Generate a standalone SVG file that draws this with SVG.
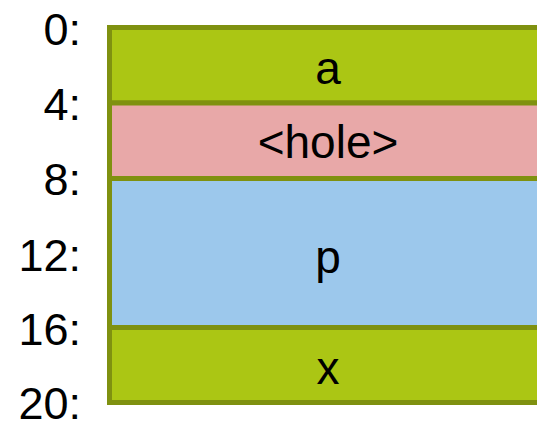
<svg xmlns="http://www.w3.org/2000/svg" width="537" height="423" viewBox="0 0 537 423">
<style>
.box{stroke:#7f9110;stroke-width:5}
.g{fill:#abc614}
.h{fill:#e8a8a8}
.b{fill:#9cc8ec}
text{font-family:"Liberation Sans",Arial,sans-serif;font-size:46px;fill:#000}
.lbl{text-anchor:middle}
.ax{text-anchor:end;font-size:45px}
</style>
<rect width="537" height="423" fill="#fff"/>
<g id="axis">
<text class="ax" x="81" y="45">0:</text>
<text class="ax" x="81" y="120">4:</text>
<text class="ax" x="81" y="195">8:</text>
<text class="ax" x="81" y="271">12:</text>
<text class="ax" x="81" y="345">16:</text>
<text class="ax" x="81" y="419">20:</text>
</g>
<g id="node-a">
<rect class="box g" x="109.5" y="27.5" width="440" height="75.5"/>
<text class="lbl" x="328" y="84">a</text>
</g>
<g id="node-hole">
<rect class="box h" x="109.5" y="103" width="440" height="75.5"/>
<text class="lbl" x="328" y="158">&lt;hole&gt;</text>
</g>
<g id="node-p">
<rect class="box b" x="109.5" y="178.5" width="440" height="149"/>
<text class="lbl" x="328" y="273">p</text>
</g>
<g id="node-x">
<rect class="box g" x="109.5" y="327.5" width="440" height="75"/>
<text class="lbl" x="328" y="384">x</text>
</g>
</svg>
